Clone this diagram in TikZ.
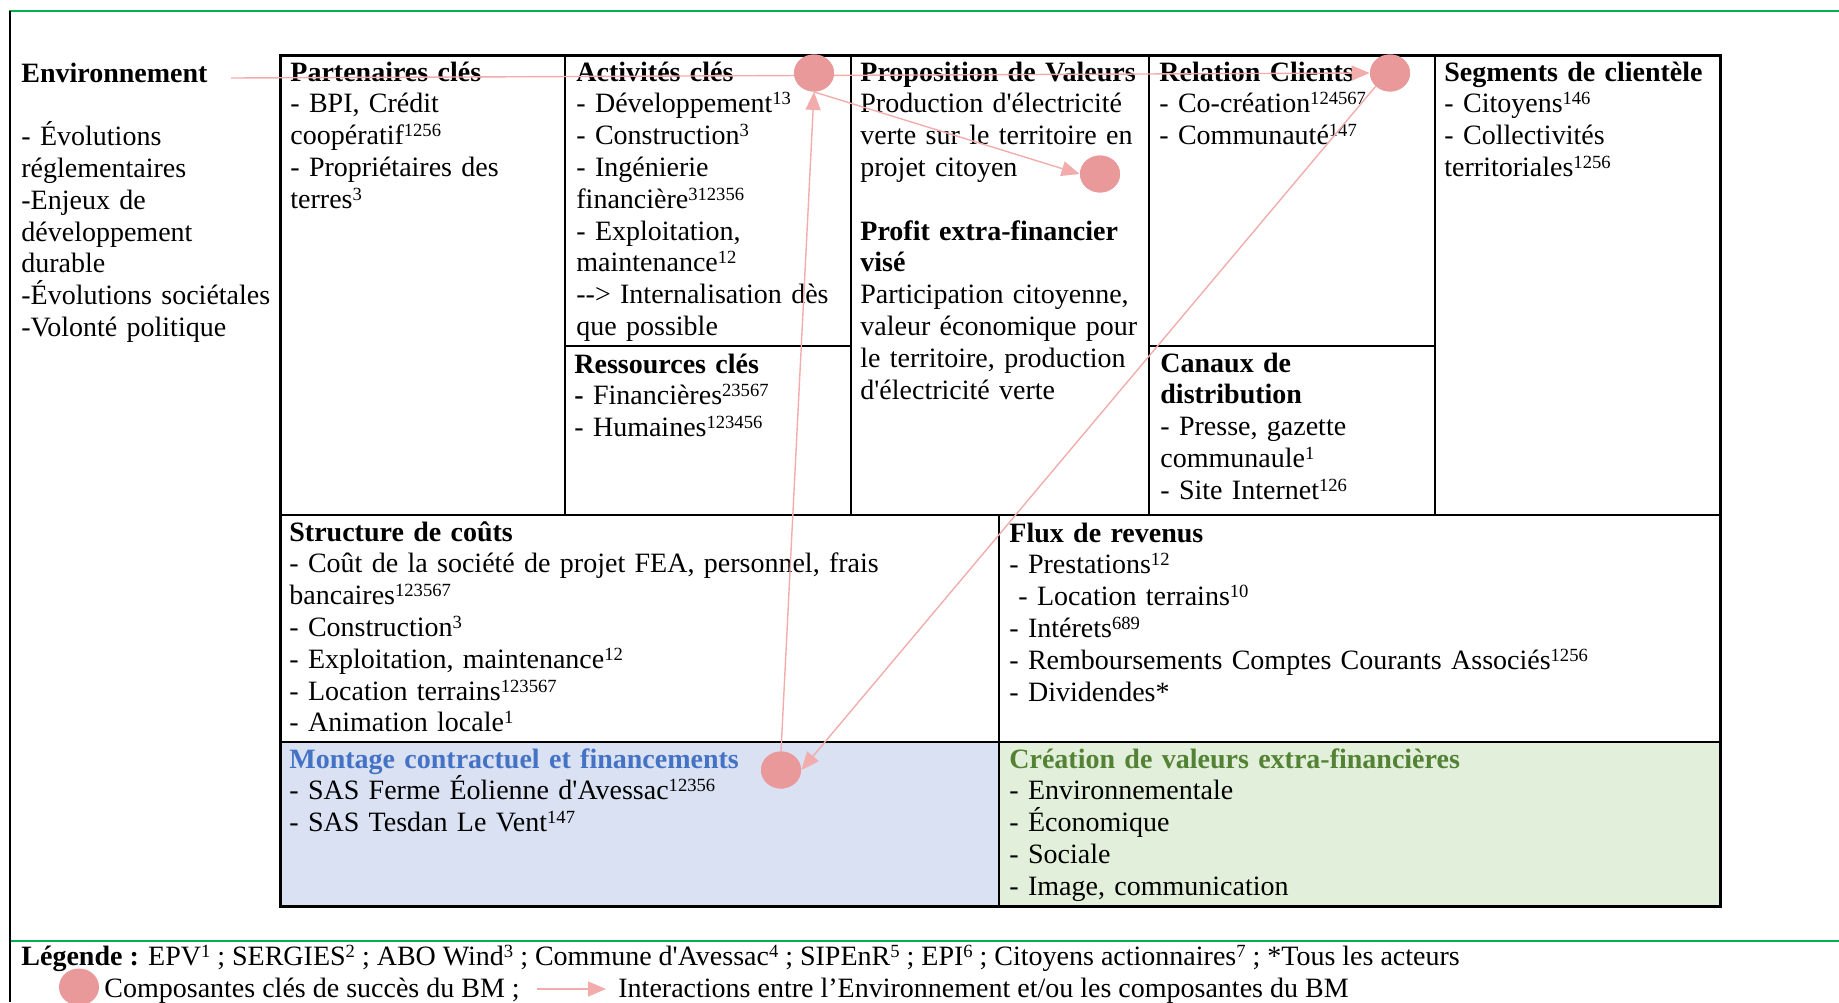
\documentclass[tikz,border=0pt]{standalone}
\usepackage{fontspec}
\newfontfamily\tnr{Liberation Serif}
\usetikzlibrary{arrows.meta,shapes.geometric}
\definecolor{gline}{RGB}{0,176,80}
\definecolor{kcirc}{RGB}{234,153,155}
\definecolor{karrow}{RGB}{242,172,172}
\definecolor{montbg}{RGB}{217,225,242}
\definecolor{montfg}{RGB}{68,114,196}
\definecolor{creabg}{RGB}{226,239,218}
\definecolor{creafg}{RGB}{84,130,53}
\newcommand\ssp[1]{\raisebox{4pt}{\fontsize{9.3}{9.3}\selectfont #1}}
\begin{document}
\begin{tikzpicture}[x=0.5pt,y=-0.5pt,
  txt/.style={anchor=base west, inner sep=0pt, text width=400pt, align=left,
    font=\tnr\fontsize{14}{15.9}\selectfont},
  onel/.style={anchor=base west, inner sep=0pt, font=\tnr\fontsize{14}{15.9}\selectfont},
  outer/.style={line width=1.5pt},
  inner/.style={line width=1pt},
  greenrule/.style={draw=gline, line width=1pt},
  circ/.style={ellipse, fill=kcirc, minimum width=20pt, minimum height=18.5pt, inner sep=0pt},
  conn/.style={draw=karrow, line width=0.7pt, -{Triangle[length=9pt,width=7.5pt]}}]
\useasboundingbox (0,0) rectangle (1839,1002);
% frame
\draw[greenrule] (9,11) -- (1839,11);
\draw[greenrule] (9,941) -- (1839,941);
\draw[line width=1pt] (10,11) -- (10,1002);
% fills
\fill[montbg] (280,742) rectangle (999,906);
\fill[creabg] (999,742) rectangle (1720,906);
% table lines
\draw[inner] (565,55) -- (565,515);
\draw[inner] (851,55) -- (851,515);
\draw[inner] (1149,55) -- (1149,515);
\draw[inner] (1435,55) -- (1435,515);
\draw[inner] (565,346) -- (851,346);
\draw[inner] (1149,346) -- (1435,346);
\draw[line width=1.25pt] (280,515) -- (1720,515);
\draw[line width=1.25pt] (280,742) -- (1720,742);
\draw[line width=1.25pt] (999,515) -- (999,906);
\draw[outer] (280,55) rectangle (1720,906);
% texts
\node[txt] (env) at (21,82) {\textbf{Environnement}\\[15.9pt]- Évolutions\\réglementaires\\-Enjeux de\\développement\\durable\\-Évolutions sociétales\\-Volonté politique};
\node[txt] (part) at (290,81) {\textbf{Partenaires clés}\\- BPI, Crédit\\coopératif\ssp{1256}\\- Propriétaires des\\terres\ssp{3}};
\node[txt] (act) at (576,81) {\textbf{Activités clés}\\- Développement\ssp{13}\\- Construction\ssp{3}\\- Ingénierie\\financière\ssp{312356}\\- Exploitation,\\maintenance\ssp{12}\\-{}-> Internalisation dès\\que possible};
\node[txt] (res) at (574,373) {\textbf{Ressources clés}\\\textbf{-} Financières\ssp{23567}\\- Humaines\ssp{123456}};
\node[txt] (prop) at (860,81) {\textbf{Proposition de Valeurs}\\Production d'électricité\\verte sur le territoire en\\projet citoyen\\[15.9pt]\textbf{Profit extra-financier}\\\textbf{visé}\\Participation citoyenne,\\valeur économique pour\\le territoire, production\\d'électricité verte};
\node[txt] (rel) at (1159,81) {\textbf{Relation Clients}\\- Co-création\ssp{124567}\\- Communauté\ssp{147}};
\node[txt] (can) at (1160,372) {\textbf{Canaux de}\\\textbf{distribution}\\- Presse, gazette\\communaule\ssp{1}\\- Site Internet\ssp{126}};
\node[txt] (seg) at (1444,81) {\textbf{Segments de clientèle}\\- Citoyens\ssp{146}\\- Collectivités\\territoriales\ssp{1256}};
\node[txt] (cost) at (289,541) {\textbf{Structure de coûts}\\- Coût de la société de projet FEA, personnel, frais\\bancaires\ssp{123567}\\- Construction\ssp{3}\\- Exploitation, maintenance\ssp{12}\\- Location terrains\ssp{123567}\\- Animation locale\ssp{1}};
\node[txt] (flux) at (1009,542) {\textbf{Flux de revenus}\\- Prestations\ssp{12}\\\hspace*{4.5pt}- Location terrains\ssp{10}\\- Intérets\ssp{689}\\- Remboursements Comptes Courants Associés\ssp{1256}\\- Dividendes*};
\node[txt] (mont) at (289,768) {\textbf{\color{montfg}Montage contractuel et financements}\\- SAS Ferme Éolienne d'Avessac\ssp{12356}\\- SAS Tesdan Le Vent\ssp{147}};
\node[txt] (crea) at (1009,768) {\textbf{\color{creafg}Création de valeurs extra-financières}\\- Environnementale\\- Économique\\- Sociale\\- Image, communication};
\node[onel] (leg1) at (21,965) {\textbf{Légende :} EPV\ssp{1} ; SERGIES\ssp{2} ; ABO Wind\ssp{3} ; Commune d'Avessac\ssp{4} ; SIPEnR\ssp{5} ; EPI\ssp{6} ; Citoyens actionnaires\ssp{7} ; *Tous les acteurs};
\node[onel] (leg2) at (104,997) {Composantes clés de succès du BM ;};
\node[onel] (leg3) at (618,997) {Interactions entre l’Environnement et/ou les composantes du BM};
% circles
\node[circ] (c1) at (814,73) {};
\node[circ] (c2) at (1100,174) {};
\node[circ] (c3) at (1390,73) {};
\node[circ] (c4) at (781,770) {};
\node[circ] (cl) at (79,987) {};
\coordinate (envs) at (231,78);
\coordinate (la1) at (537,989);
\coordinate (la2) at (606,989);
% connectors
\draw[conn] (envs) -- (c3.west);
\draw[conn] (c1.south) -- (c2.west);
\draw[conn] (c4.north) -- (c1.south);
\draw[conn] (c3.south west) -- (c4.east);
\draw[conn] (la1) -- (la2);
% circles on top
\foreach \n/\p in {c1/{(814,73)},c2/{(1100,174)},c3/{(1390,73)},c4/{(781,770)}}{
  \fill[kcirc] \p ellipse [x radius=20, y radius=18.5];
}
\end{tikzpicture}
\end{document}
